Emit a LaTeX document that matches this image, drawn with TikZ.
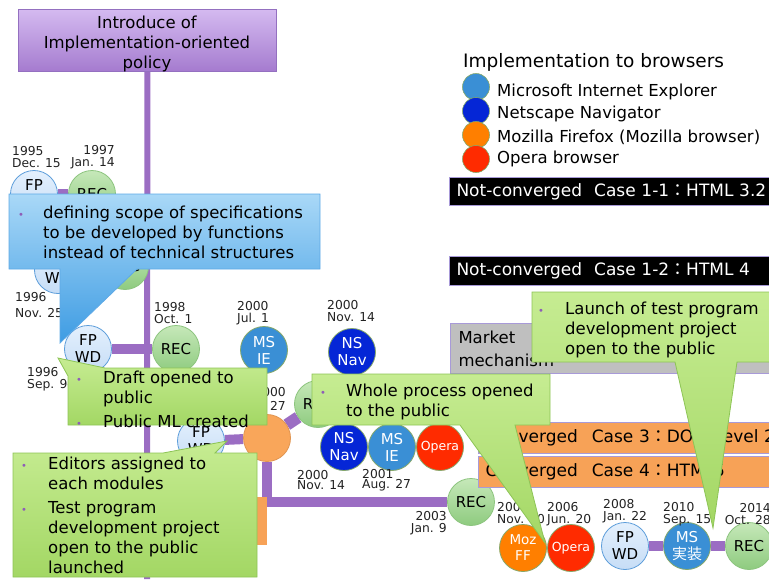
\documentclass[tikz,border=0pt]{standalone}
\usepackage{fontspec}
\setmainfont{DejaVu Sans}
\newfontfamily\cjk{Noto Sans CJK JP}
\pgfdeclarelayer{bg}
\pgfsetlayers{bg,main}
\definecolor{purp}{HTML}{9B6DC3}
\definecolor{bulc}{HTML}{8E5DB8}
\definecolor{gtop}{HTML}{C6EC92}
\definecolor{gbot}{HTML}{A3D764}
\definecolor{gbrd}{HTML}{8DC456}
\definecolor{btop}{HTML}{A9D8F7}
\definecolor{bbot}{HTML}{3E9CE3}
\definecolor{bbrd}{HTML}{5EA9E6}
\definecolor{msblue}{HTML}{3A8FD5}
\definecolor{nsblue}{HTML}{0526D6}
\definecolor{mozor}{HTML}{FF7F00}
\definecolor{opred}{HTML}{FF2B00}
\definecolor{lightor}{HTML}{F9A65A}
\definecolor{baror}{HTML}{F7A257}
\definecolor{lav}{HTML}{A89AD8}
\definecolor{datec}{HTML}{222222}
\definecolor{circbrd}{HTML}{86A86A}
\newcommand{\bl}{\textcolor{bulc}{\fontsize{10}{10}\selectfont\textbullet}}
\begin{document}
\begin{tikzpicture}[x=1pt,y=-1pt,
  circ/.style={circle, minimum size=47pt, inner sep=0pt, align=center, font=\fontsize{15}{17}\selectfont, line width=0.8pt},
  fpc/.style={circ, top color={rgb,255:red,228;green,240;blue,253}, bottom color={rgb,255:red,198;green,221;blue,246}, draw={rgb,255:red,92;green,157;blue,218}},
  recc/.style={circ, top color={rgb,255:red,198;green,232;blue,185}, bottom color={rgb,255:red,142;green,203;blue,127}, draw={rgb,255:red,140;green,196;blue,126}},
  msc/.style={circ, fill=msblue, draw=circbrd, text=white},
  nsc/.style={circ, fill=nsblue, draw=circbrd, text=white},
  mozc/.style={circ, fill=mozor, draw=circbrd, text=white, font=\fontsize{13.5}{16}\selectfont},
  operac/.style={circ, fill=opred, draw=circbrd, text=white, font=\fontsize{12.5}{14}\selectfont},
  oranc/.style={circ, fill=lightor, draw=lightor!90!black},
  legc/.style={circle, minimum size=27pt, inner sep=0pt, draw=circbrd, line width=0.6pt},
  date/.style={inner sep=0pt, font=\fontsize{12.3}{11.5}\selectfont, text=datec},
  hbar/.style={draw=purp, line width=10pt},
  vline/.style={draw=purp, line width=6pt},
  ctext/.style={inner sep=0pt, font=\fontsize{16.5}{20}\selectfont},
  legtext/.style={inner sep=0pt, anchor=west, font=\fontsize{16.5}{20}\selectfont},
  blackbar/.style={anchor=north west, fill=black, draw=lav, line width=1pt, text=white, text width=346pt, inner xsep=7pt, inner ysep=0pt, align=left, font=\fontsize{17}{20}\selectfont},
  orbar/.style={anchor=north west, fill=baror, draw=lav, line width=1pt, text=black, text width=300pt, inner xsep=7pt, inner ysep=0pt, minimum height=31pt, align=left, font=\fontsize{17}{20}\selectfont},
  gcall/.style={top color=gtop, bottom color=gbot, draw=gbrd, line width=0.8pt},
  bcall/.style={top color=btop, bottom color=bbot, draw=bbrd, line width=0.8pt}
]
\useasboundingbox (0,0) rectangle (769,579);
\clip (0,0) rectangle (769,579);

% top policy box
\node[anchor=north west, minimum width=258pt, minimum height=62pt, inner sep=0pt,
  top color={rgb,255:red,212;green,186;blue,240}, bottom color={rgb,255:red,165;green,123;blue,207},
  draw={rgb,255:red,148;green,112;blue,192}, line width=0.8pt] (policy) at (18,9) {};
\node[inner sep=0pt, align=center, font=\fontsize{16.5}{20}\selectfont] (policytext) at (147,44) {Introduce of\\Implementation-oriented\\policy};
\coordinate (vend) at (147,579);

% circles
\node[fpc] (fp95) at (34,194) {FP\\WD};
\node[recc] (rec97) at (92,194) {REC};
\node[fpc] (fp96b) at (58,270) {FP\\WD};
\node[recc] (rec96b) at (125,266) {REC};
\node[fpc] (fpwd96) at (88,349) {FP\\WD};
\node[recc] (rec98) at (176,349) {REC};
\node[msc] (ms00) at (264,350) {MS\\IE};
\node[nsc] (ns00a) at (352,352) {NS\\Nav};
\node[fpc] (fp99) at (201,441) {FP\\WD};
\node[oranc] (or00) at (267,438) {};
\node[recc] (rec00) at (318,404) {REC};
\node[nsc] (ns00b) at (344,447) {NS\\Nav};
\node[msc] (ms01) at (392,447) {MS\\IE};
\node[operac] (op01) at (440,447) {Opera};
\node[recc] (rec03) at (471,502) {REC};
\node[mozc] (moz04) at (523,548) {Moz\\FF};
\node[operac] (op06) at (571,548) {Opera};
\node[fpc] (fpwd08) at (625,546) {FP\\WD};
\node[msc] (ms10) at (687,546) {MS\\{\cjk 実装}};
\node[recc] (rec14) at (749,546) {REC};

\begin{pgfonlayer}{bg}
\draw[vline] (policy.south) -- (vend);
\draw[hbar] (fp95) -- (rec97);
\draw[hbar] (fpwd96) -- (rec98);
\draw[hbar] (fp99) -- (or00);
\draw[draw=purp, line width=12pt] (or00) -- (rec00);
\draw[hbar] (or00) |- (rec03);
\draw[hbar] (fpwd08) -- (ms10) -- (rec14);
\end{pgfonlayer}

% dates
\node[date, anchor=west, align=left] (d95) at (12,157) {1995\\Dec. 15};
\node[date, anchor=east, align=right] (d97) at (115,157) {1997\\Jan. 14};
\node[date, anchor=west, align=left, font=\fontsize{12.3}{16}\selectfont] (d96b) at (15,305) {1996\\Nov. 25};
\node[date, anchor=west, align=left] (d96s) at (27,379) {1996\\Sep. 9-};
\node[date, anchor=west, align=left] (d98) at (154,313) {1998\\Oct. 1};
\node[date, anchor=west, align=left] (d00a) at (237,313) {2000\\Jul. 1};
\node[date, anchor=west, align=left] (d00b) at (327,311) {2000\\Nov. 14};
\node[date, anchor=east, align=right, font=\fontsize{12.3}{14}\selectfont] (d00c) at (286,399) {2000\\Dec. 27};
\node[date, anchor=west, align=left, font=\fontsize{12.3}{10.5}\selectfont] (d00d) at (297,480) {2000\\Nov. 14};
\node[date, anchor=west, align=left, font=\fontsize{12.3}{10.5}\selectfont] (d01) at (362,480) {2001\\Aug. 27};
\node[date, anchor=east, align=right, font=\fontsize{12.3}{12.5}\selectfont] (d03) at (447,523) {2003\\Jan. 9};
\node[date, anchor=west, align=left] (d04) at (497,513) {2004\\Nov. 10};
\node[date, anchor=west, align=left] (d06) at (547,514) {2006\\Jun. 20};
\node[date, anchor=west, align=left] (d08) at (603,511) {2008\\Jan. 22};
\node[date, anchor=west, align=left] (d10) at (663,514) {2010\\Sep. 15};
\node[date, anchor=east, align=right] (d14) at (771,514) {2014\\Oct. 28};

% legend
\node[inner sep=0pt, anchor=west, font=\fontsize{18.5}{22}\selectfont] (leghead) at (463,62) {Implementation to browsers};
\node[legc, fill=msblue] (lg1) at (476,87) {};
\node[legc, fill=nsblue] (lg2) at (476,111) {};
\node[legc, fill=mozor] (lg3) at (476,135) {};
\node[legc, fill=opred] (lg4) at (476,159) {};
\node[legtext] (lt1) at (497,92) {Microsoft Internet Explorer};
\node[legtext] (lt2) at (497,114) {Netscape Navigator};
\node[legtext] (lt3) at (497,137) {Mozilla Firefox (Mozilla browser)};
\node[legtext] (lt4) at (497,159) {Opera browser};

% bars
\node[blackbar, minimum height=28pt] (nc11) at (449,177) {Not-converged\hspace{12pt}Case 1-1{\cjk ：}HTML 3.2};
\node[blackbar, minimum height=29pt] (nc12) at (449,256) {Not-converged\hspace{12pt}Case 1-2{\cjk ：}HTML 4};
\node[anchor=north west, fill={rgb,255:red,191;green,191;blue,191}, draw=lav, line width=1pt,
  minimum height=50pt, text width=320pt, inner xsep=8pt, inner ysep=0pt,
  align=left, font=\fontsize{16.5}{23}\selectfont] (mkt) at (450,323) {Market\\mechanism};
\node[orbar] (c3) at (478,422) {Converged\hspace{14pt}Case 3{\cjk ：}DOM Level 2};
\node[orbar] (c4) at (478,456) {Converged\hspace{14pt}Case 4{\cjk ：}HTML5};
\fill[baror] (150,497) rectangle (267,545);

% callouts
\shade[bcall] (9,194) -- (320,194) -- (320,269) -- (137,269) -- (60,343) -- (60,269) -- (9,269) -- cycle;
\node[ctext, anchor=base west] (t1) at (18,218) {\begin{tabular}[t]{@{}p{25pt}@{}l@{}}\bl & defining scope of specifications\\ & to be developed by functions\\ & instead of technical structures\end{tabular}};

\shade[gcall] (58,358) -- (105,368) -- (267,368) -- (267,425) -- (68,425) -- (68,376) -- cycle;
\node[ctext, anchor=base west] (t2) at (76,383) {\begin{tabular}[t]{@{}p{27pt}@{}l@{}}\bl & Draft opened to\\ & public\\[4pt] \bl & Public ML created\end{tabular}};

\shade[gcall] (13,453) -- (163,453) -- (227,441) -- (215,453) -- (257,453) -- (257,577) -- (13,577) -- cycle;
\node[ctext, anchor=base west] (t3) at (21,469) {\begin{tabular}[t]{@{}p{27pt}@{}l@{}}\bl & Editors assigned to\\ & each modules\\[4pt] \bl & Test program\\ & development project\\ & open to the public\\ & launched\end{tabular}};

\shade[gcall] (312,374) -- (550,374) -- (550,425) -- (515,425) -- (545,543) -- (460,425) -- (312,425) -- cycle;
\node[ctext, anchor=base west] (t4) at (320,396) {\begin{tabular}[t]{@{}p{26pt}@{}l@{}}\bl & Whole process opened\\ & to the public\end{tabular}};

\shade[gcall] (532,292) -- (775,292) -- (775,362) -- (737,362) -- (713,528) -- (675,362) -- (532,362) -- cycle;
\node[ctext, anchor=base west] (t5) at (538,314) {\begin{tabular}[t]{@{}p{27pt}@{}l@{}}\bl & Launch of test program\\ & development project\\ & open to the public\end{tabular}};
\end{tikzpicture}
\end{document}
